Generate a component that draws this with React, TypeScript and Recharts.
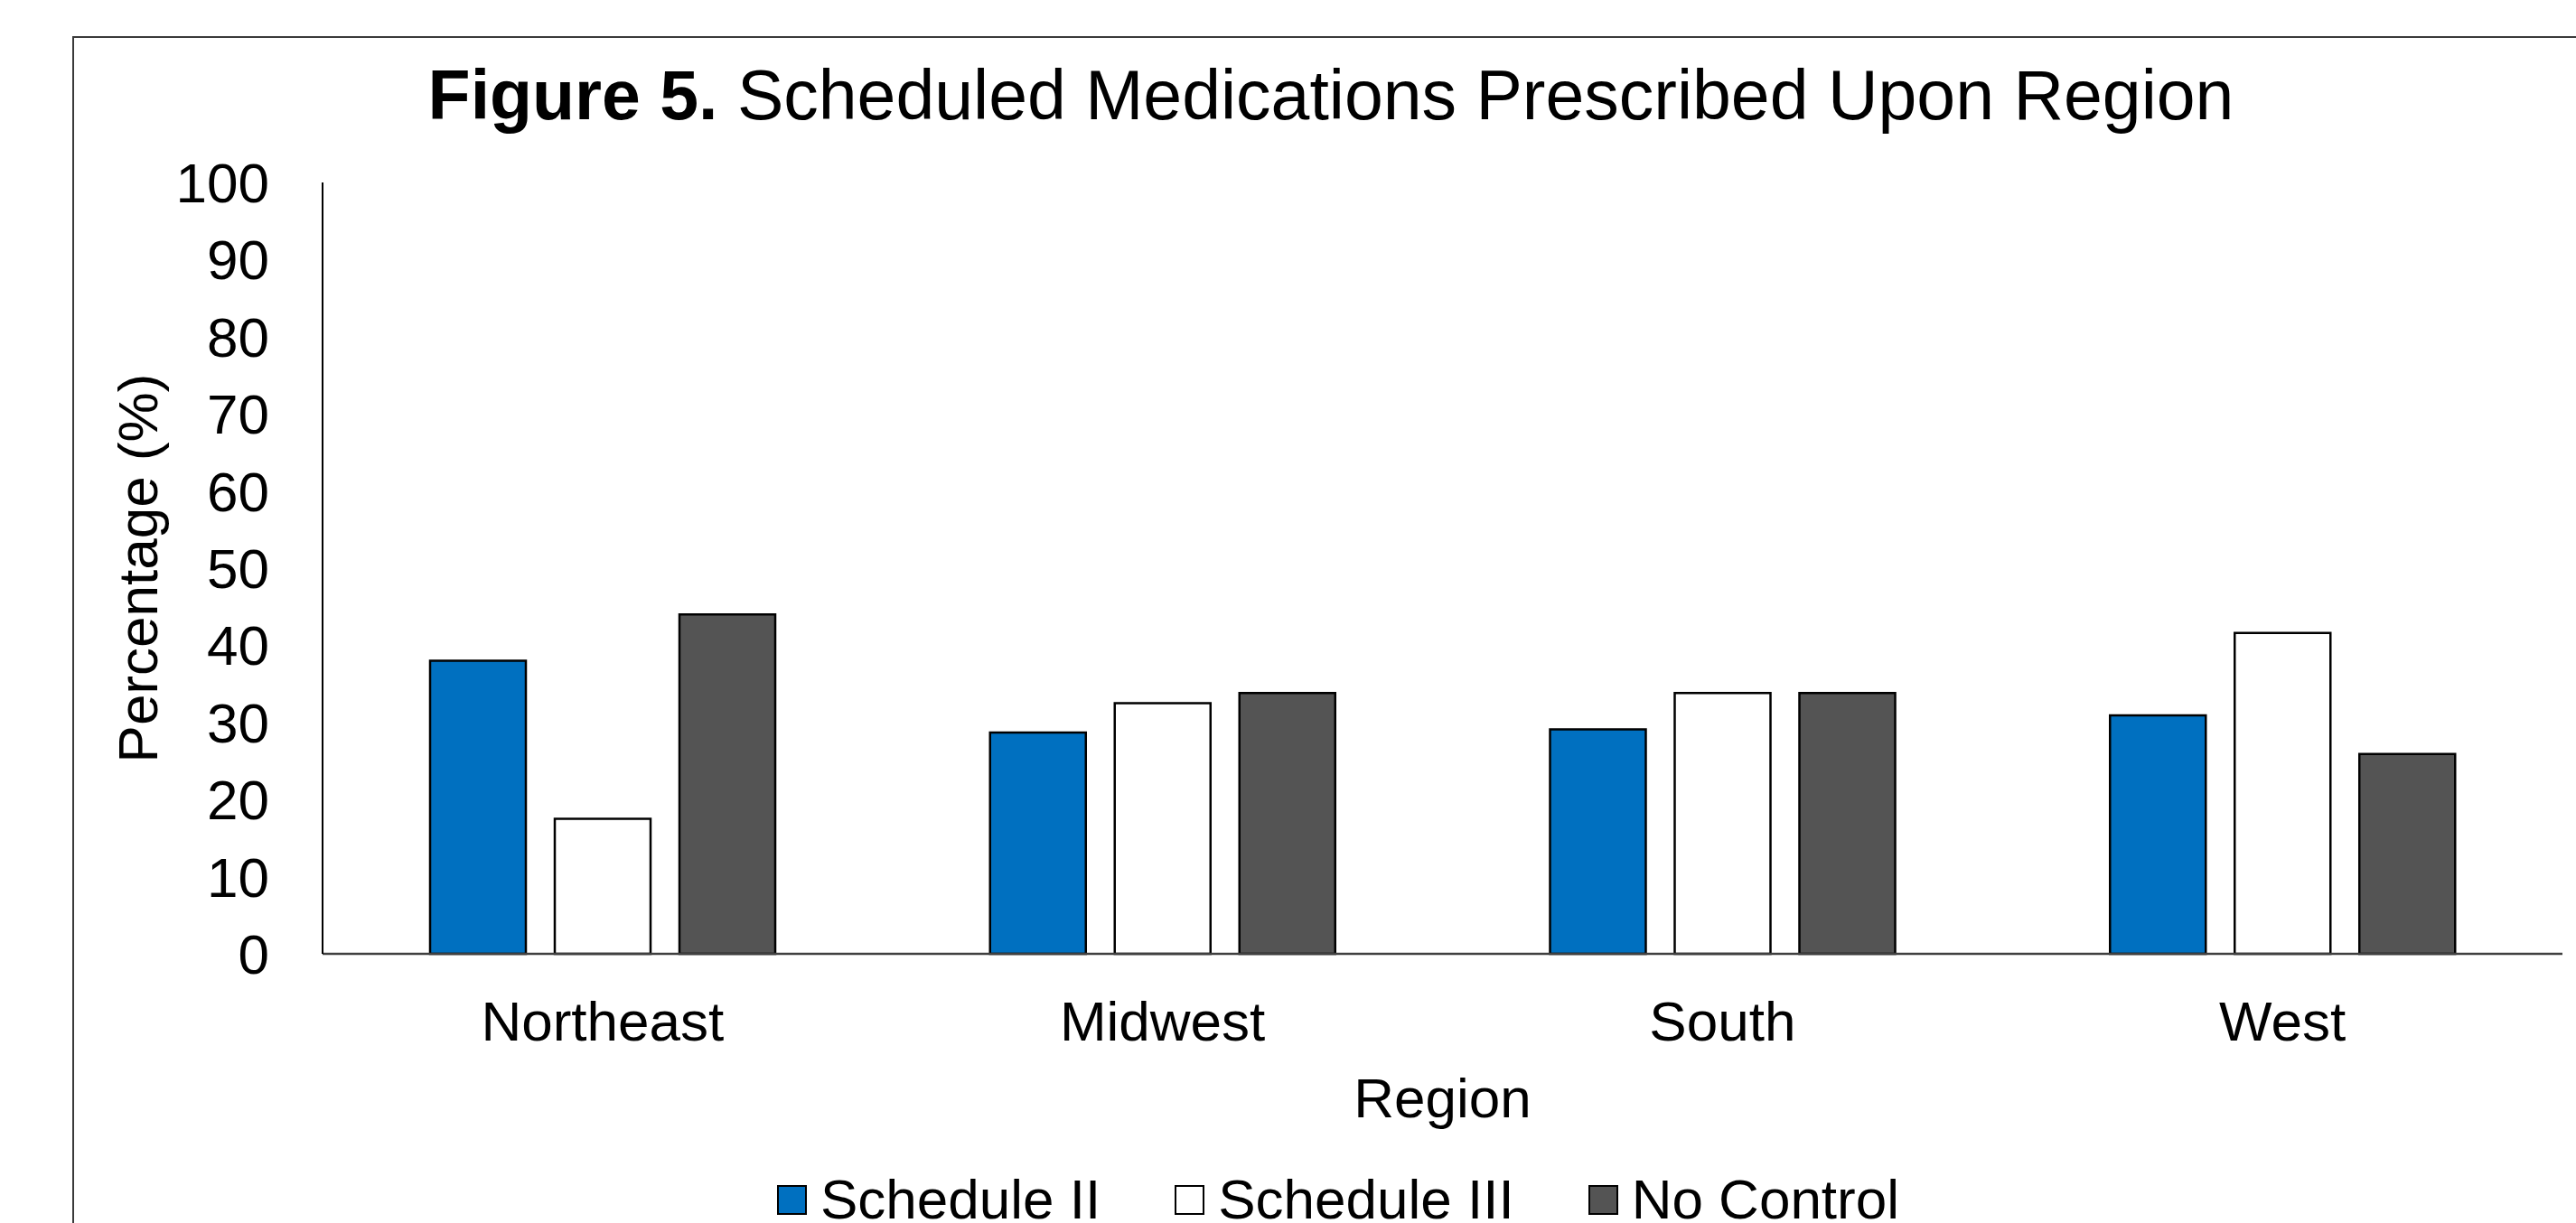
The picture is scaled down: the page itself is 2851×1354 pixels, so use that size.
import { BarChart, Bar, XAxis, YAxis, Legend } from "recharts";

const FONT = '"Liberation Sans", Arial, sans-serif';

const REGIONS = ["Northeast", "Midwest", "South", "West"];
const SCHEDULE_II = [38.0, 28.7, 29.1, 30.9];
const SCHEDULE_III = [17.5, 32.5, 33.8, 41.6];
const NO_CONTROL = [44.0, 33.8, 33.8, 25.9];
const Y_TICKS = [0, 10, 20, 30, 40, 50, 60, 70, 80, 90, 100];

const SERIES = [
  { key: "scheduleII", name: "Schedule II", fill: "#0070C0" },
  { key: "scheduleIII", name: "Schedule III", fill: "#FFFFFF" },
  { key: "noControl", name: "No Control", fill: "#545454" },
];

const data = REGIONS.map((region, i) => ({
  region,
  scheduleII: SCHEDULE_II[i],
  scheduleIII: SCHEDULE_III[i],
  noControl: NO_CONTROL[i],
}));

function LegendContent() {
  return (
    <div style={{ display: "flex", justifyContent: "center", alignItems: "center", gap: 82 }}>
      {SERIES.map((s) => (
        <div key={s.key} style={{ display: "flex", alignItems: "center" }}>
          <span
            style={{
              width: 29,
              height: 29,
              background: s.fill,
              border: "2px solid #000",
              marginRight: 15,
            }}
          />
          <span style={{ fontSize: 62, lineHeight: 1, color: "#000" }}>{s.name}</span>
        </div>
      ))}
    </div>
  );
}

export default function App() {
  return (
    <div
      style={{
        position: "absolute",
        left: 0,
        top: 0,
        width: 2851,
        height: 1354,
        overflow: "hidden",
        background: "#fff",
        fontFamily: FONT,
      }}
    >
      {/* chart frame, runs off the right and bottom edges */}
      <div
        style={{
          position: "absolute",
          left: 80,
          top: 40,
          width: 2840,
          height: 1400,
          border: "2px solid #3a3a3a",
        }}
      />
      <div
        style={{
          position: "absolute",
          left: 80,
          top: 67,
          width: 2786,
          textAlign: "center",
          fontSize: 77,
          lineHeight: 1,
          color: "#000",
        }}
      >
        <b>Figure 5.</b> Scheduled Medications Prescribed Upon Region
      </div>
      <div style={{ position: "absolute", left: 0, top: 0 }}>
        <BarChart
          width={2851}
          height={1354}
          data={data}
          margin={{ top: 202, right: 15, left: 157, bottom: 98 }}
          barSize={106}
          barGap={32}
        >
          <XAxis
            dataKey="region"
            interval={0}
            tickLine={false}
            tickSize={0}
            tickMargin={52}
            height={200}
            axisLine={{ stroke: "#404040", strokeWidth: 2.5 }}
            tick={{ fontSize: 62, fill: "#000" }}
            label={{ value: "Region", position: "insideTop", offset: 137, fontSize: 62, fill: "#000" }}
          />
          <YAxis
            domain={[0, 100]}
            ticks={Y_TICKS}
            interval={0}
            tickLine={false}
            tickSize={0}
            tickMargin={59}
            width={200}
            axisLine={{ stroke: "#000", strokeWidth: 2 }}
            tick={{ fontSize: 62, fill: "#000" }}
            label={{
              value: "Percentage (%)",
              angle: -90,
              position: "center",
              dx: -105,
              fontSize: 62,
              fill: "#000",
            }}
          />
          <Legend
            verticalAlign="middle"
            align="center"
            content={LegendContent}
            wrapperStyle={{ top: 1297, left: 80, width: 2802 }}
          />
          {SERIES.map((s) => (
            <Bar
              key={s.key}
              dataKey={s.key}
              name={s.name}
              fill={s.fill}
              stroke="#000"
              strokeWidth={2.5}
              isAnimationActive={false}
            />
          ))}
        </BarChart>
      </div>
    </div>
  );
}
